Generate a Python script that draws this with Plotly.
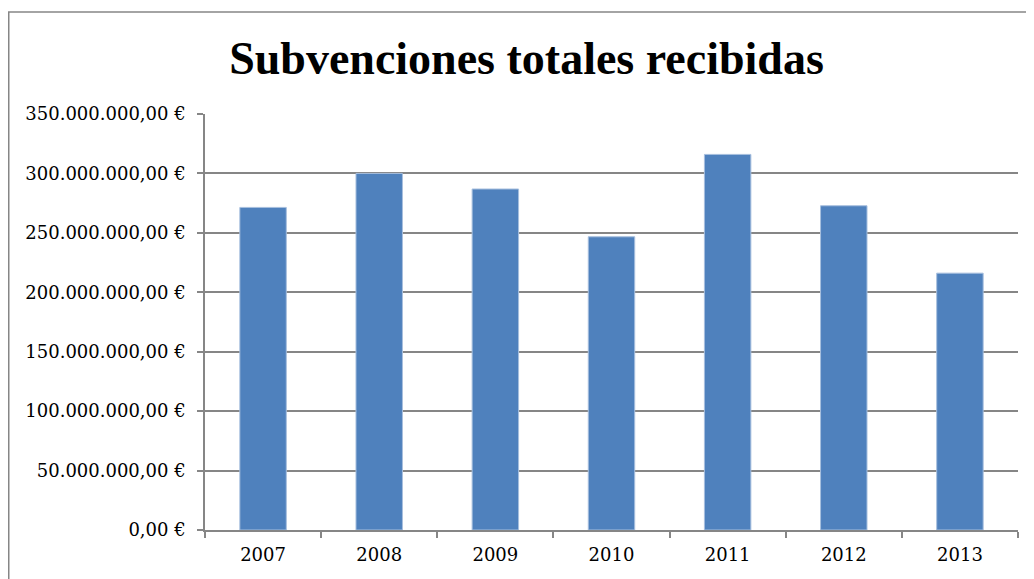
import plotly.graph_objects as go

years = ["2007", "2008", "2009", "2010", "2011", "2012", "2013"]
values = [271_400_000, 300_000_000, 286_900_000, 246_700_000, 316_000_000, 272_800_000, 216_100_000]
tick_vals = [0, 50_000_000, 100_000_000, 150_000_000, 200_000_000, 250_000_000, 300_000_000, 350_000_000]
tick_text = ["0,00 €", "50.000.000,00 €", "100.000.000,00 €", "150.000.000,00 €",
             "200.000.000,00 €", "250.000.000,00 €", "300.000.000,00 €", "350.000.000,00 €"]
title_text = "Subvenciones totales recibidas"

fig = go.Figure(go.Bar(
    x=years, y=values,
    marker=dict(color="#4F81BD", line=dict(color="#A7BFDE", width=1)),
))

OFF = 8  # default body margin of the html page
W, H = 1034 - OFF, 579 - OFF
L, R, T, B = 205 - OFF, 16, 114 - OFF, 49
pw, ph = W - L - R, H - T - B

tick_font = dict(family="DejaVu Serif, Liberation Serif, serif", size=18, color="black")

fig.update_layout(
    width=W, height=H,
    margin=dict(l=L, r=R, t=T, b=B, pad=0),
    paper_bgcolor="white", plot_bgcolor="white",
    bargap=0.6,
    showlegend=False,
    font=dict(family="Liberation Serif, DejaVu Serif, serif", color="black", size=18),
    title=dict(text="<b>" + title_text + "</b>", xref="container", x=(526.5 - OFF) / W,
               xanchor="center", yref="container", y=1 - (58 - OFF) / H, yanchor="middle",
               font=dict(family="Liberation Serif, DejaVu Serif, serif", size=46, color="black")),
    xaxis=dict(showgrid=False, showline=True, linecolor="#868686", linewidth=1.5,
               ticks="outside", tickson="boundaries", ticklen=6, tickcolor="#868686",
               tickwidth=1.5, tickfont=tick_font, ticklabelstandoff=8),
    yaxis=dict(range=[0, 350_000_000], tickvals=tick_vals, ticktext=tick_text,
               showgrid=True, gridcolor="#868686", gridwidth=1.5,
               showline=True, linecolor="#868686", linewidth=1.5,
               ticks="outside", ticklen=6, tickcolor="#868686", tickwidth=1.5,
               tickfont=tick_font, ticklabelstandoff=8, zeroline=False),
    shapes=[dict(type="rect", xref="paper", yref="paper",
                 x0=(0.75 - L) / pw, x1=(W + 300 - L) / pw,
                 y0=-(B + 300) / ph, y1=(H - B - 4) / ph,
                 line=dict(color="#868686", width=1.5), layer="below")],
)

fig.write_html("out.html")
